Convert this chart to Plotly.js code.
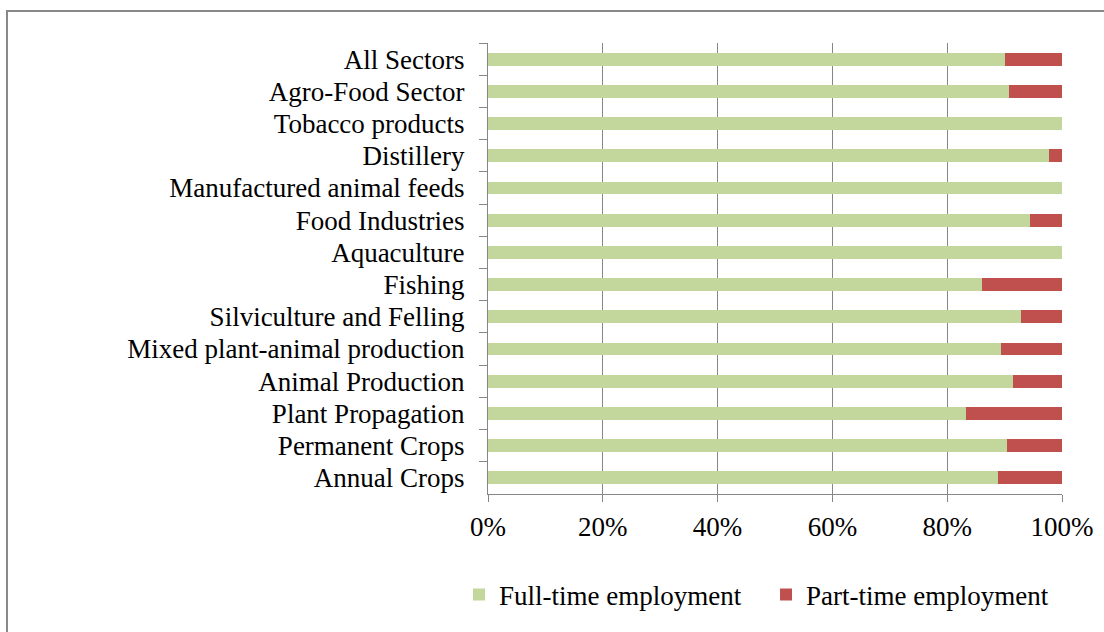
<!DOCTYPE html>
<html>
<head>
<meta charset="utf-8">
<script src="https://cdn.plot.ly/plotly-3.0.1.min.js"></script>
<style>html,body{margin:0;padding:0;background:#fff;}#chart{width:1104px;height:632px;}</style>
</head>
<body>
<div id="chart"></div>
<script>
var categories = ["All Sectors", "Agro-Food Sector", "Tobacco products", "Distillery",
  "Manufactured animal feeds", "Food Industries", "Aquaculture", "Fishing",
  "Silviculture and Felling", "Mixed plant-animal production", "Animal Production",
  "Plant Propagation", "Permanent Crops", "Annual Crops"];
var fullTime = [90.1, 90.8, 100, 97.7, 100, 94.4, 100, 86.1, 92.8, 89.3, 91.5, 83.2, 90.4, 88.8];
var partTime = [9.9, 9.2, 0, 2.3, 0, 5.6, 0, 13.9, 7.2, 10.7, 8.5, 16.8, 9.6, 11.2];
var xTickVals = [0, 20, 40, 60, 80, 100];
var xTickText = ["0%", "20%", "40%", "60%", "80%", "100%"];

var font = {family: "Liberation Serif", size: 27, color: "#000"};

var traces = [
  {type: "bar", orientation: "h", name: "Full-time employment", y: categories, x: fullTime,
   marker: {color: "#C3D69B"}, hoverinfo: "x+y"},
  {type: "bar", orientation: "h", name: "Part-time employment", y: categories, x: partTime,
   marker: {color: "#C0504D"}, hoverinfo: "x+y"}
];

var layout = {
  width: 1104, height: 632,
  margin: {l: 488, r: 42, t: 43, b: 138},
  barmode: "stack", bargap: 0.6,
  paper_bgcolor: "#fff", plot_bgcolor: "#fff",
  font: font,
  showlegend: true,
  legend: {orientation: "h", x: -0.0505, xanchor: "left", y: -0.224, yanchor: "middle",
           font: font, entrywidth: 262, entrywidthmode: "pixels", traceorder: "normal"},
  xaxis: {range: [0, 100], tickvals: xTickVals, ticktext: xTickText,
          showgrid: true, gridcolor: "#868686", gridwidth: 1,
          showline: true, linecolor: "#868686", linewidth: 1,
          ticks: "outside", ticklen: 7, tickcolor: "#868686",
          ticklabelstandoff: 2, zeroline: false, fixedrange: true},
  yaxis: {type: "category", autorange: "reversed", showgrid: false,
          showline: true, linecolor: "#868686", linewidth: 1,
          ticks: "outside", tickson: "boundaries", ticklen: 8, tickcolor: "#868686",
          ticklabelstandoff: 17, fixedrange: true},
  shapes: [
    {type: "rect", xref: "paper", yref: "paper", x0: -0.838, x1: 1.2, y0: -0.5, y1: 1.071,
     line: {color: "#888888", width: 2}, fillcolor: "rgba(0,0,0,0)", layer: "below"}
  ]
};

Plotly.newPlot("chart", traces, layout, {displayModeBar: false, staticPlot: true});
</script>
</body>
</html>
